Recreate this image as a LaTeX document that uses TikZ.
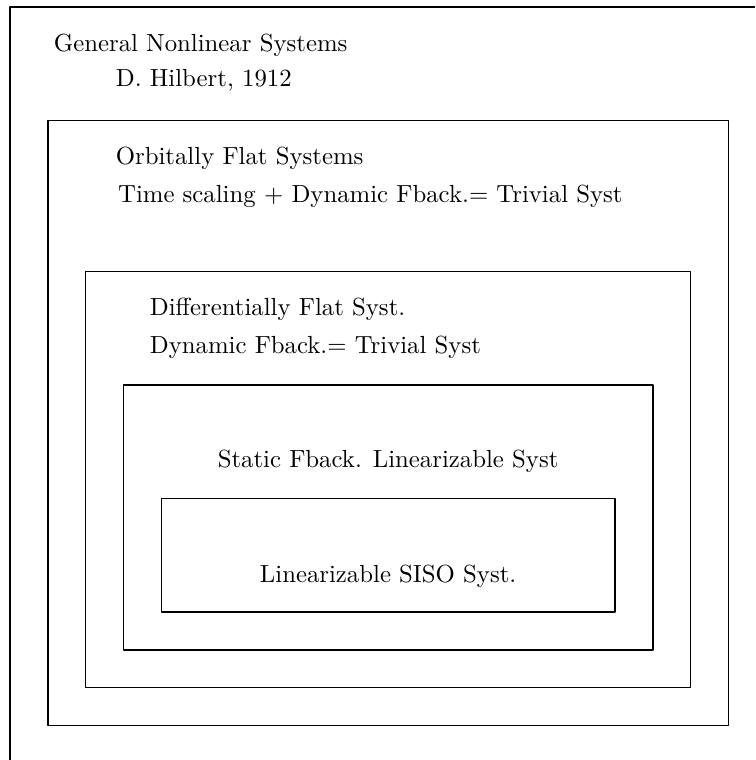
\documentclass[tikz,border=0pt]{standalone}
\begin{document}
\begin{tikzpicture}[x=15.5pt,y=15.5pt, line width=0.6pt, line join=round,
	font=\fontsize{10.15}{12}\selectfont,
	lbl/.style={inner sep=0pt, anchor=base west},
	clbl/.style={inner sep=0pt, anchor=base}]
	\def\xmin{-4.265} \def\xmax{15.71} \def\ymin{-3.915} \def\ymax{16.185}
	\useasboundingbox (\xmin,\ymin) rectangle (\xmax,\ymax);
	% outer frame, cut by the page
	\draw (\xmax,16)--(-4,16)--(-4,\ymin);
	% nested classes
	\draw (-3,-3) rectangle (15,13);
	\draw (-2,-2) rectangle (14,9);
	\draw (-1,-1) rectangle (13,6);
	\draw (0,0) rectangle (12,3);
	\node[lbl] (gen)  at (-2.86,14.81) {General Nonlinear Systems};
	\node[lbl] (hil)  at (-1.22,13.89) {D. Hilbert, 1912};
	\node[lbl] (orb)  at (-1.22,11.83) {Orbitally Flat Systems};
	\node[lbl] (orbd) at (-1.16,10.82) {Time scaling + Dynamic Fback.= Trivial Syst};
	\node[lbl] (dif)  at (-0.32,7.83) {Differentially Flat Syst.};
	\node[lbl] (difd) at (-0.32,6.83) {Dynamic Fback.= Trivial Syst};
	\node[clbl] (sta) at (6,3.81) {Static Fback. Linearizable Syst};
	\node[clbl] (siso) at (6,0.79) {Linearizable SISO Syst.};
\end{tikzpicture}
\end{document}
